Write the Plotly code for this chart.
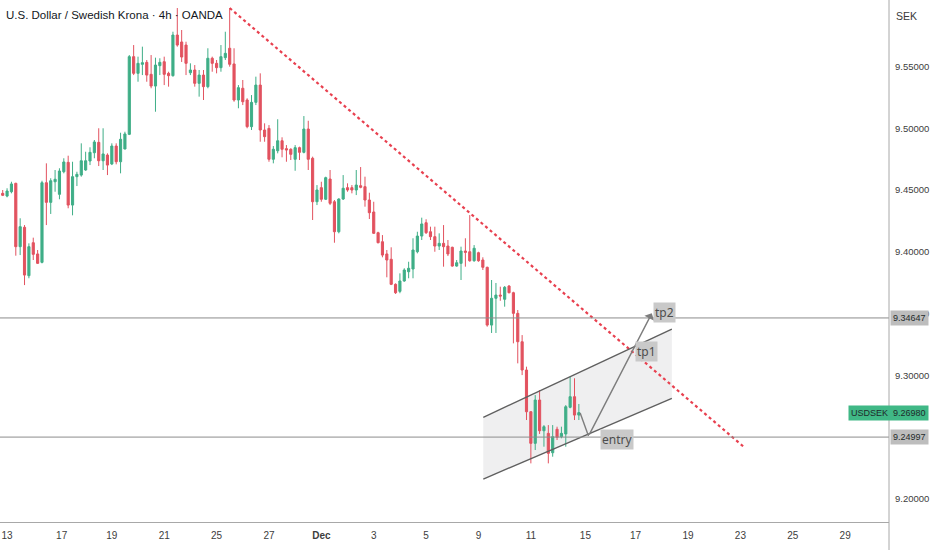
import plotly.graph_objects as go

# 4h candles, USD/SEK (OANDA), mid Nov -> mid Dec
opens = [9.4474, 9.4452, 9.4487, 9.4555, 9.4042, 9.4199, 9.3807, 9.4074, 9.3983, 9.3915,
         9.4560, 9.4401, 9.4568, 9.4466, 9.4649, 9.4725, 9.4379, 9.4609, 9.4622, 9.4663,
         9.4736, 9.4803, 9.4887, 9.4738, 9.4784, 9.4712, 9.4857, 9.4730, 9.4833, 9.4952,
         9.5581, 9.5446, 9.5519, 9.5535, 9.5438, 9.5343, 9.5508, 9.5540, 9.5446, 9.5427,
         9.5756, 9.5700, 9.5675, 9.5451, 9.5473, 9.5365, 9.5432, 9.5338, 9.5568, 9.5527,
         9.5492, 9.5573, 9.5649, 9.5522, 9.5230, 9.5325, 9.5230, 9.5014, 9.5211, 9.5351,
         9.4987, 9.5000, 9.4750, 9.4819, 9.4900, 9.4836, 9.4831, 9.4750, 9.4844, 9.4806,
         9.4995, 9.4758, 9.4406, 9.4520, 9.4426, 9.4590, 9.4406, 9.4163, 9.4428, 9.4520,
         9.4520, 9.4501, 9.4536, 9.4528, 9.4420, 9.4323, 9.4155, 9.4082, 9.3983, 9.3940,
         9.3737, 9.3680, 9.3764, 9.3839, 9.3861, 9.4001, 9.4128, 9.4236, 9.4163, 9.4123,
         9.4047, 9.4069, 9.4047, 9.4037, 9.3885, 9.3907, 9.4007, 9.4001, 9.3928, 9.3993,
         9.3934, 9.3875, 9.3407, 9.3624, 9.3650, 9.3616, 9.3723, 9.3669, 9.3502, 9.3272,
         9.3043, 9.2705, 9.2449, 9.2800, 9.2551, 9.2530, 9.2373, 9.2563, 9.2503, 9.2525,
         9.2741, 9.2827, 9.2678]
highs = [9.4501, 9.4515, 9.4568, 9.4560, 9.4272, 9.4217, 9.4069, 9.4115, 9.4015, 9.4576,
         9.4717, 9.4596, 9.4663, 9.4677, 9.4758, 9.4779, 9.4730, 9.4649, 9.4879, 9.4811,
         9.4847, 9.4906, 9.5001, 9.5001, 9.4798, 9.4879, 9.4879, 9.4965, 9.4973, 9.5594,
         9.5675, 9.5581, 9.5662, 9.5554, 9.5594, 9.5573, 9.5568, 9.5581, 9.5459, 9.5783,
         9.5975, 9.5797, 9.5702, 9.5527, 9.5513, 9.5473, 9.5473, 9.5649, 9.5581, 9.5554,
         9.5675, 9.5783, 9.5973, 9.5649, 9.5351, 9.5392, 9.5244, 9.5270, 9.5419, 9.5446,
         9.5041, 9.5027, 9.4857, 9.5074, 9.4928, 9.4865, 9.4839, 9.4865, 9.4852, 9.5100,
         9.5062, 9.4771, 9.4541, 9.4568, 9.4609, 9.4663, 9.4420, 9.4434, 9.4622, 9.4555,
         9.4541, 9.4663, 9.4687, 9.4609, 9.4479, 9.4406, 9.4163, 9.4136, 9.4015, 9.4037,
         9.3745, 9.3826, 9.3867, 9.3920, 9.4110, 9.4163, 9.4277, 9.4264, 9.4204, 9.4204,
         9.4150, 9.4217, 9.4096, 9.4042, 9.3934, 9.4042, 9.4110, 9.4298, 9.4055, 9.4001,
         9.3956, 9.3880, 9.3772, 9.3748, 9.3718, 9.3723, 9.3731, 9.3677, 9.3529, 9.3326,
         9.3070, 9.2710, 9.2840, 9.2881, 9.2597, 9.2597, 9.2597, 9.2584, 9.2584, 9.2759,
         9.2989, 9.2976, 9.2768]
lows = [9.4452, 9.4442, 9.4474, 9.3969, 9.3974, 9.3731, 9.3786, 9.3934, 9.3902, 9.3907,
        9.4217, 9.4307, 9.4487, 9.4426, 9.4636, 9.4353, 9.4296, 9.4533, 9.4609, 9.4657,
        9.4703, 9.4758, 9.4695, 9.4663, 9.4622, 9.4703, 9.4709, 9.4636, 9.4831, 9.4946,
        9.5432, 9.5378, 9.5432, 9.5378, 9.5325, 9.5135, 9.5432, 9.5351, 9.5338, 9.5419,
        9.5662, 9.5538, 9.5432, 9.5432, 9.5338, 9.5257, 9.5230, 9.5325, 9.5459, 9.5446,
        9.5459, 9.5554, 9.5500, 9.5216, 9.5163, 9.5189, 9.5001, 9.4987, 9.5189, 9.4892,
        9.4892, 9.4730, 9.4717, 9.4798, 9.4766, 9.4730, 9.4744, 9.4657, 9.4744, 9.4798,
        9.4663, 9.4258, 9.4379, 9.4406, 9.4420, 9.4379, 9.4074, 9.4150, 9.4420, 9.4487,
        9.4474, 9.4460, 9.4515, 9.4366, 9.4266, 9.4145, 9.4069, 9.3956, 9.3794, 9.3731,
        9.3659, 9.3665, 9.3758, 9.3786, 9.3786, 9.3988, 9.4096, 9.4145, 9.4096, 9.4001,
        9.4015, 9.3880, 9.3966, 9.3880, 9.3880, 9.3772, 9.3880, 9.3920, 9.3920, 9.3920,
        9.3853, 9.3394, 9.3343, 9.3343, 9.3604, 9.3556, 9.3664, 9.3259, 9.3097, 9.3002,
        9.2638, 9.2287, 9.2395, 9.2525, 9.2422, 9.2287, 9.2341, 9.2476, 9.2490, 9.2422,
        9.2733, 9.2638, 9.2638]
closes = [9.4458, 9.4493, 9.4550, 9.4042, 9.4204, 9.3812, 9.4042, 9.3980, 9.3907, 9.4560,
          9.4401, 9.4576, 9.4588, 9.4655, 9.4728, 9.4379, 9.4609, 9.4628, 9.4738, 9.4738,
          9.4806, 9.4890, 9.4738, 9.4793, 9.4703, 9.4857, 9.4730, 9.4912, 9.4955, 9.5581,
          9.5446, 9.5527, 9.5532, 9.5432, 9.5343, 9.5513, 9.5535, 9.5438, 9.5427, 9.5756,
          9.5675, 9.5578, 9.5527, 9.5473, 9.5365, 9.5432, 9.5338, 9.5568, 9.5527, 9.5492,
          9.5581, 9.5608, 9.5519, 9.5230, 9.5330, 9.5216, 9.5014, 9.5211, 9.5351, 9.4987,
          9.4933, 9.4750, 9.4831, 9.4900, 9.4831, 9.4825, 9.4790, 9.4844, 9.4806, 9.4995,
          9.4750, 9.4406, 9.4501, 9.4426, 9.4601, 9.4393, 9.4163, 9.4428, 9.4515, 9.4501,
          9.4501, 9.4541, 9.4523, 9.4420, 9.4317, 9.4150, 9.4074, 9.3974, 9.3934, 9.3737,
          9.3669, 9.3764, 9.3853, 9.3867, 9.4015, 9.4128, 9.4226, 9.4155, 9.4123, 9.4047,
          9.4069, 9.4042, 9.3983, 9.3885, 9.3912, 9.4007, 9.3996, 9.3928, 9.4029, 9.3928,
          9.3875, 9.3407, 9.3624, 9.3650, 9.3642, 9.3713, 9.3669, 9.3502, 9.3272, 9.3043,
          9.2705, 9.2449, 9.2800, 9.2551, 9.2584, 9.2368, 9.2503, 9.2498, 9.2530, 9.2746,
          9.2827, 9.2678, 9.2698]
bars = list(range(len(closes)))

# date labels along the bottom (bar index where each day starts)
date_pos = [1, 13.5, 25, 37, 49, 61, 73, 85, 97, 109, 121, 133.5, 145, 157, 169, 181, 193]
date_txt = ["13", "17", "19", "21", "25", "27", "<b>Dec</b>", "3", "5", "9", "11",
            "15", "17", "19", "23", "25", "29"]

price_ticks = [9.20, 9.30, 9.35, 9.40, 9.45, 9.50, 9.55]

# drawings
resistance = 9.34647
support = 9.24997
last_price = 9.26980
trend_x = [52, 170.1]
trend_y = [9.5975, 9.2411]
chan_x = [110.1, 153.3]
chan_top = [9.2660, 9.3375]
chan_bot = [9.2160, 9.2814]
path_x = [132.3, 134.2, 148.7]
path_y = [9.2695, 9.2508, 9.3502]

UP = "#3fae87"
DOWN = "#e2525f"
GRAY = "#7d7d7d"
FONT = "Liberation Sans, sans-serif"

fig = go.Figure()

# channel fill behind candles
fig.add_shape(type="path", layer="below", line_width=0,
              fillcolor="rgba(120,123,134,0.12)",
              path=f"M {chan_x[0]},{chan_top[0]} L {chan_x[1]},{chan_top[1]} "
                   f"L {chan_x[1]},{chan_bot[1]} L {chan_x[0]},{chan_bot[0]} Z")

fig.add_trace(go.Candlestick(
    x=bars, open=opens, high=highs, low=lows, close=closes,
    increasing=dict(line=dict(color=UP, width=1), fillcolor=UP),
    decreasing=dict(line=dict(color=DOWN, width=1), fillcolor=DOWN),
    whiskerwidth=0, showlegend=False, hoverinfo="skip"))

# dotted down trendline
fig.add_trace(go.Scatter(x=trend_x, y=trend_y, mode="lines", showlegend=False,
                         line=dict(color="#e8404f", width=2.2, dash="dot"),
                         hoverinfo="skip"))

# channel borders
for ys in (chan_top, chan_bot):
    fig.add_trace(go.Scatter(x=chan_x, y=ys, mode="lines", showlegend=False,
                             line=dict(color="#5f5f5f", width=1.4), hoverinfo="skip"))

# projected path entry -> tp2
fig.add_trace(go.Scatter(x=path_x[:2], y=path_y[:2], mode="lines", showlegend=False,
                         line=dict(color=GRAY, width=1.4), hoverinfo="skip"))
fig.add_annotation(x=path_x[2], y=path_y[2], ax=path_x[1], ay=path_y[1],
                   xref="x", yref="y", axref="x", ayref="y", text="",
                   showarrow=True, arrowhead=1, arrowsize=1.3, arrowwidth=1.4,
                   arrowcolor=GRAY)

# horizontal levels
for lvl in (resistance, support):
    fig.add_shape(type="line", xref="paper", x0=0, x1=1, y0=lvl, y1=lvl,
                  line=dict(color="#8c8c8c", width=1))

# vertical separator of price scale
fig.add_shape(type="line", xref="paper", yref="paper", x0=1, x1=1, y0=-0.06, y1=1,
              line=dict(color="#a8a8a8", width=1))

# drawing labels
for txt, xx, yy in (("entry", 140.7, 9.2479), ("tp1", 147.5, 9.3189), ("tp2", 151.6, 9.3509)):
    fig.add_annotation(x=xx, y=yy, text=txt, showarrow=False,
                       font=dict(family="Noto Sans", size=12, color="#4d4d4d"),
                       bgcolor="#c9c9c9", borderpad=1)

# price scale labels
for val, txt, bg in ((resistance, "9.34647", "#bdbdbd"),
                     (support, "9.24997", "#bdbdbd"),
                     (last_price, "USDSEK&nbsp;&nbsp;9.26980", "#40b886")):
    fig.add_annotation(xref="paper", x=1, y=val, xanchor="right", xshift=40,
                       text=txt, showarrow=False, bgcolor=bg, borderpad=2,
                       font=dict(family=FONT, size=9, color="#1f2a2a"))

fig.add_annotation(xref="paper", yref="paper", x=1, y=1, xanchor="center", yanchor="top",
                   xshift=17, yshift=-8, text="SEK", showarrow=False,
                   font=dict(family=FONT, size=10.5, color="#3a3a3a"))

fig.add_annotation(xref="paper", yref="paper", x=0, y=1, xanchor="left", yanchor="top",
                   xshift=4, yshift=-7, showarrow=False,
                   text="U.S. Dollar / Swedish Krona · 4h · OANDA",
                   font=dict(family=FONT, size=11.5, color="#131722"))

fig.update_layout(
    width=932, height=550,
    margin=dict(l=0, r=43, t=0, b=28),
    paper_bgcolor="white", plot_bgcolor="white",
    xaxis=dict(range=[-0.62, 203.05], rangeslider=dict(visible=False),
               showgrid=False, zeroline=False, showline=True, linecolor="#a8a8a8",
               tickmode="array", tickvals=date_pos, ticktext=date_txt,
               ticks="", ticklabelstandoff=4,
               tickfont=dict(family=FONT, size=10, color="#3d3d3d")),
    yaxis=dict(range=[9.1812, 9.604], side="right", showgrid=False, zeroline=False,
               showline=False, tickmode="array", tickvals=price_ticks,
               ticktext=[f"{v:.5f}" for v in price_ticks], ticks="",
               ticklabelstandoff=5,
               tickfont=dict(family=FONT, size=9.5, color="#3d3d3d")),
)

# the page body has a default 8px margin; drop it so the chart sits at the corner
fig.write_html("out.html", config={"displayModeBar": False},
               post_script="document.body.style.margin='0';")
